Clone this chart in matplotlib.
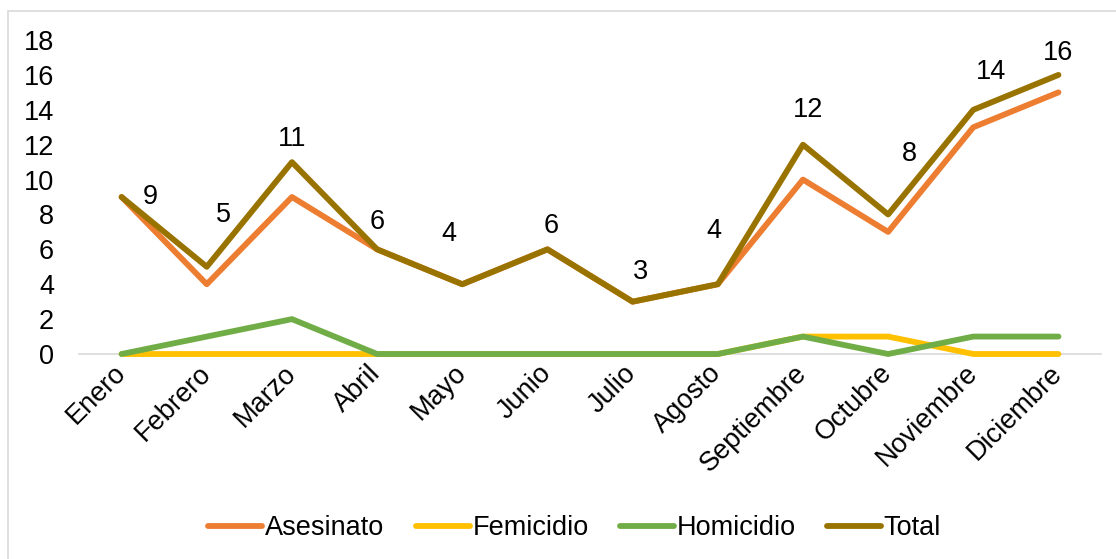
import matplotlib.pyplot as plt
from matplotlib.patches import Rectangle

plt.rcParams['font.family'] = ['Liberation Sans', 'DejaVu Sans']

meses = ['Enero', 'Febrero', 'Marzo', 'Abril', 'Mayo', 'Junio', 'Julio',
         'Agosto', 'Septiembre', 'Octubre', 'Noviembre', 'Diciembre']
asesinato = [9, 4, 9, 6, 4, 6, 3, 4, 10, 7, 13, 15]
femicidio = [0, 0, 0, 0, 0, 0, 0, 0, 1, 1, 0, 0]
homicidio = [0, 1, 2, 0, 0, 0, 0, 0, 1, 0, 1, 1]
total = [9, 5, 11, 6, 4, 6, 3, 4, 12, 8, 14, 16]

# desplazamiento (px) de cada etiqueta de Total, como en el original
offsets = [(29, 0), (17, 52), (0, 23), (0, 27), (-13, 50), (4, 23),
           (8, 30), (-4, 53), (5, 35), (21, 60), (18, 38), (0, 22)]

fs = 19.5
fig = plt.figure(figsize=(11.16, 5.59), dpi=100)
ax = fig.add_axes([0.0708, 0.3667, 0.9158, 0.5617])

# borde del gráfico
fig.patches.append(Rectangle((8 / 1116, -0.1), 1.2, 1.1 - 11 / 559,
                             transform=fig.transFigure, fill=False,
                             edgecolor='#D9D9D9', linewidth=1.2))

x = range(len(meses))
estilo = dict(lw=4.2, solid_capstyle='round', solid_joinstyle='round', clip_on=False)
ax.plot(x, asesinato, color='#ED7D31', label='Asesinato', **estilo)
ax.plot(x, femicidio, color='#FFC000', label='Femicidio', **estilo)
ax.plot(x, homicidio, color='#70AD47', label='Homicidio', **estilo)
ax.plot(x, total, color='#997300', label='Total', **estilo)

for i, v in enumerate(total):
    ax.annotate(str(v), (i, v), xytext=offsets[i], textcoords='offset pixels',
                ha='center', va='center', fontsize=fs)

ax.set_xlim(-0.5, len(meses) - 0.5)
ax.set_ylim(0, 18)
ax.set_yticks(range(0, 19, 2))
ax.set_xticks(list(x))
ax.set_xticklabels(meses, rotation=45, ha='right', va='center', rotation_mode='anchor')
ax.tick_params(axis='both', length=0, labelsize=fs)
ax.tick_params(axis='x', pad=11)
ax.tick_params(axis='y', pad=18)
for s in ['top', 'right', 'left']:
    ax.spines[s].set_visible(False)
ax.spines['bottom'].set_color('#D9D9D9')
ax.spines['bottom'].set_linewidth(1.2)
ax.spines['bottom'].set_zorder(0)

fig.legend(loc='center', bbox_to_anchor=(0.515, 0.055), ncol=4, frameon=False,
           fontsize=fs, handlelength=2.0, handletextpad=0.1, columnspacing=1.15)

fig.savefig('out.png', dpi=100)
